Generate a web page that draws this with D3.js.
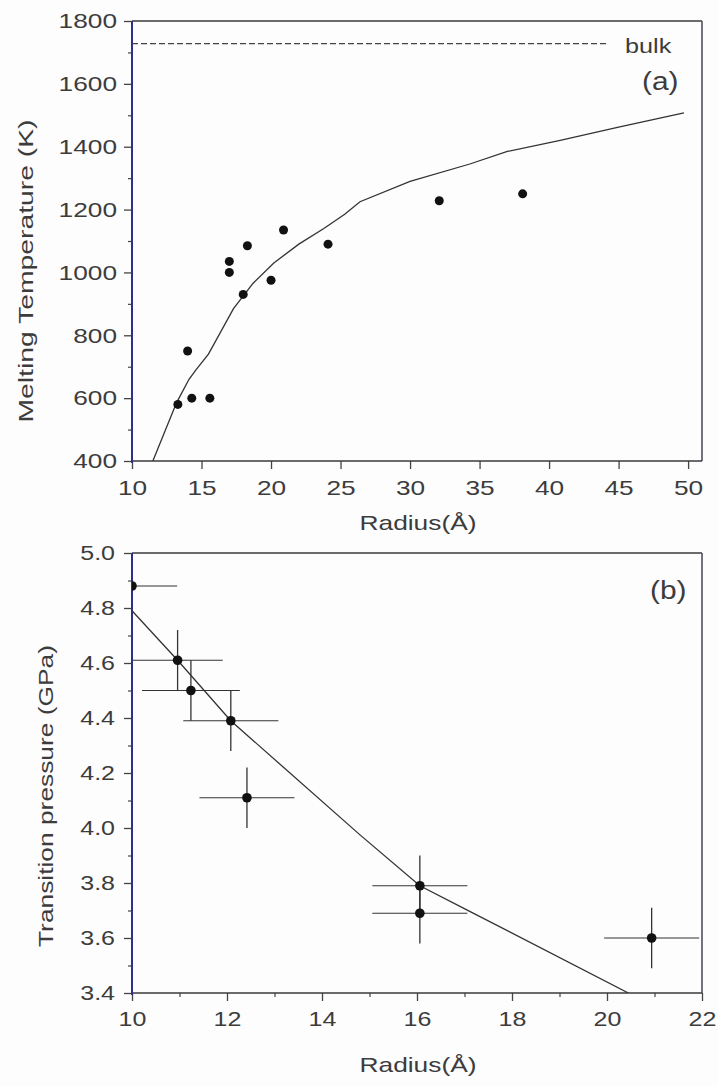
<!DOCTYPE html>
<html><head><meta charset="utf-8">
<script src="https://cdn.jsdelivr.net/npm/d3@7"></script>
<style>
body{margin:0;background:#fdfdfd}
svg{display:block}
text{font-family:"Liberation Sans",Arial,sans-serif;fill:#3c3c3c}
</style>
</head><body>
<svg id="c" width="718" height="1086"></svg>
<script>
// ---------- Panel (a) data ----------
const meltRadius = [13.3, 14.0, 14.3, 15.6, 17.0, 17.0, 18.0, 18.3, 20.0, 20.9, 24.1, 32.1, 38.1];
const meltTemp   = [580, 750, 600, 600, 1035, 1000, 930, 1085, 975, 1135, 1090, 1228, 1250];
const fitRadiusA = [11.5, 13.2, 14.1, 14.6, 15.5, 17.3, 18.7, 20.2, 22.0, 23.8, 25.3, 26.4, 30.0, 34.3, 37.0, 40.8, 45.0, 49.7];
const fitTempA   = [400, 585, 660, 690, 740, 885, 965, 1030, 1090, 1140, 1185, 1225, 1290, 1345, 1385, 1420, 1462, 1508];
const bulkTemp = 1728;
const bulkRadius = [10, 44.2];
const xTicksA = [10, 15, 20, 25, 30, 35, 40, 45, 50];
const yTicksA = [400, 600, 800, 1000, 1200, 1400, 1600, 1800];
const yMinorA = [500, 700, 900, 1100, 1300, 1500, 1700];

// ---------- Panel (b) data ----------
const presRadius = [10.0, 10.96, 11.24, 12.08, 12.42, 16.06, 16.06, 20.94];
const presValue  = [4.88, 4.61, 4.50, 4.39, 4.11, 3.79, 3.69, 3.60];
const radiusErr  = [0.95, 0.95, 1.03, 1.0, 1.0, 1.0, 1.0, 1.0];
const presErr    = [0, 0.11, 0.11, 0.11, 0.11, 0.11, 0.11, 0.11];
const fitRadiusB = [10.0, 10.96, 12.08, 14.8, 16.06, 17.12, 20.45];
const fitPresB   = [4.79, 4.61, 4.39, 3.975, 3.79, 3.696, 3.40];
const xTicksB = [10, 12, 14, 16, 18, 20, 22];
const xMinorB = [11, 13, 15, 17, 19, 21];
const yTicksB = [3.4, 3.6, 3.8, 4.0, 4.2, 4.4, 4.6, 4.8, 5.0];
const yMinorB = [3.5, 3.7, 3.9, 4.1, 4.3, 4.5, 4.7, 4.9];

const svg = d3.select("#c");
const STRETCH = 1.25;
const axisBlue = "#2e2e8c";

function stretchText(sel, factor) {
  sel.each(function(){
    const L = this.getComputedTextLength();
    this.setAttribute("textLength", L * factor);
    this.setAttribute("lengthAdjust", "spacingAndGlyphs");
  });
}

function panel(cfg) {
  const {left, right, top, bottom} = cfg;
  const x = d3.scaleLinear().domain(cfg.xDomain).range([left, right]);
  const y = d3.scaleLinear().domain(cfg.yDomain).range([bottom, top]);
  const g = svg.append("g");

  // minor ticks
  g.append("g").attr("transform", `translate(0,${bottom})`)
    .call(d3.axisBottom(x).tickValues(cfg.xMinor || []).tickSize(4).tickFormat(""))
    .call(a => a.select(".domain").remove())
    .call(a => a.selectAll("line").attr("stroke", "#444").attr("stroke-width", 1.2));
  g.append("g").attr("transform", `translate(${left},0)`)
    .call(d3.axisLeft(y).tickValues(cfg.yMinor || []).tickSize(4).tickFormat(""))
    .call(a => a.select(".domain").remove())
    .call(a => a.selectAll("line").attr("stroke", "#444").attr("stroke-width", 1.2));

  // major axes
  const xa = g.append("g").attr("transform", `translate(0,${bottom})`)
    .call(d3.axisBottom(x).tickValues(cfg.xTicks).tickSize(8).tickPadding(11).tickFormat(cfg.xFmt))
    .call(a => a.select(".domain").remove());
  xa.selectAll("line").attr("stroke", "#444").attr("stroke-width", 1.3);
  xa.selectAll("text").attr("font-size", cfg.tickFont).attr("fill", "#3c3c3c")
    .attr("font-family", '"Liberation Sans",Arial,sans-serif');
  stretchText(xa.selectAll("text"), STRETCH);

  const ya = g.append("g").attr("transform", `translate(${left},0)`)
    .call(d3.axisLeft(y).tickValues(cfg.yTicks).tickSize(8).tickPadding(cfg.yPad).tickFormat(cfg.yFmt))
    .call(a => a.select(".domain").remove());
  ya.selectAll("line").attr("stroke", "#444").attr("stroke-width", 1.3);
  ya.selectAll("text").attr("font-size", cfg.tickFont).attr("fill", "#3c3c3c")
    .attr("font-family", '"Liberation Sans",Arial,sans-serif');
  stretchText(ya.selectAll("text"), STRETCH);

  // frame
  g.append("line").attr("x1", left).attr("x2", right).attr("y1", top).attr("y2", top)
    .attr("stroke", "#3a3a3a").attr("stroke-width", 1.5);
  g.append("line").attr("x1", right).attr("x2", right).attr("y1", top).attr("y2", bottom)
    .attr("stroke", "#505060").attr("stroke-width", 1.6);
  g.append("line").attr("x1", left).attr("x2", right).attr("y1", bottom).attr("y2", bottom)
    .attr("stroke", "#3a3a3a").attr("stroke-width", 1.6);
  g.append("line").attr("x1", left).attr("x2", left).attr("y1", top).attr("y2", bottom + 2)
    .attr("stroke", axisBlue).attr("stroke-width", 2);

  // clip
  const id = "clip" + cfg.name;
  svg.append("clipPath").attr("id", id).append("rect")
    .attr("x", left).attr("y", top).attr("width", right - left).attr("height", bottom - top);
  const plot = g.append("g").attr("clip-path", `url(#${id})`);

  // axis titles
  const xt = g.append("text").attr("x", cfg.xTitleX).attr("y", cfg.xTitleY)
    .attr("text-anchor", "middle").attr("font-size", 21).text(cfg.xTitle);
  xt.attr("textLength", cfg.xTitleLen).attr("lengthAdjust", "spacingAndGlyphs");
  const yt = g.append("text")
    .attr("transform", `translate(${cfg.yTitleX},${cfg.yTitleY}) rotate(-90)`)
    .attr("text-anchor", "middle").attr("font-size", 21).text(cfg.yTitle);
  yt.attr("textLength", cfg.yTitleLen).attr("lengthAdjust", "spacingAndGlyphs");

  return {x, y, g, plot};
}

// ---------- Panel (a) ----------
const A = panel({
  name: "a", left: 132, right: 702, top: 21, bottom: 461,
  xDomain: [10, 51], yDomain: [400, 1800],
  xTicks: xTicksA, yTicks: yTicksA, yMinor: yMinorA,
  xFmt: d3.format("d"), yFmt: d3.format("d"), tickFont: 21, yPad: 7,
  xTitle: "Radius(Å)", xTitleX: 418, xTitleY: 530, xTitleLen: 117,
  yTitle: "Melting Temperature (K)", yTitleX: 33, yTitleY: 271, yTitleLen: 303
});

A.plot.append("line")
  .attr("x1", A.x(bulkRadius[0])).attr("x2", A.x(bulkRadius[1]))
  .attr("y1", A.y(bulkTemp)).attr("y2", A.y(bulkTemp))
  .attr("stroke", "#444").attr("stroke-width", 1.3).attr("stroke-dasharray", "6,3");

A.plot.append("path")
  .datum(fitRadiusA.map((r, i) => [r, fitTempA[i]]))
  .attr("fill", "none").attr("stroke", "#333").attr("stroke-width", 1.3)
  .attr("d", d3.line().x(d => A.x(d[0])).y(d => A.y(d[1])));

A.plot.selectAll("circle.m").data(meltRadius.map((r, i) => [r, meltTemp[i]]))
  .join("circle").attr("class", "m")
  .attr("cx", d => A.x(d[0])).attr("cy", d => A.y(d[1])).attr("r", 4.5).attr("fill", "#111");

const bulkT = A.g.append("text").attr("x", 625).attr("y", 53).attr("font-size", 21).text("bulk");
stretchText(bulkT, 1.2);
const aT = A.g.append("text").attr("x", 642).attr("y", 90).attr("font-size", 26).text("(a)");
stretchText(aT, 1.15);

// ---------- Panel (b) ----------
const B = panel({
  name: "b", left: 132, right: 702, top: 553, bottom: 993,
  xDomain: [10, 22], yDomain: [3.4, 5.0],
  xTicks: xTicksB, xMinor: xMinorB, yTicks: yTicksB, yMinor: yMinorB,
  xFmt: d3.format("d"), yFmt: d3.format(".1f"), tickFont: 20, yPad: 9,
  xTitle: "Radius(Å)", xTitleX: 418, xTitleY: 1072, xTitleLen: 117,
  yTitle: "Transition pressure (GPa)", yTitleX: 53, yTitleY: 796, yTitleLen: 302
});

B.plot.append("path")
  .datum(fitRadiusB.map((r, i) => [r, fitPresB[i]]))
  .attr("fill", "none").attr("stroke", "#333").attr("stroke-width", 1.3)
  .attr("d", d3.line().x(d => B.x(d[0])).y(d => B.y(d[1])));

const pts = presRadius.map((r, i) => ({r, p: presValue[i], er: radiusErr[i], ep: presErr[i]}));
B.plot.selectAll("line.xe").data(pts).join("line").attr("class", "xe")
  .attr("x1", d => B.x(d.r - d.er)).attr("x2", d => B.x(d.r + d.er))
  .attr("y1", d => B.y(d.p)).attr("y2", d => B.y(d.p))
  .attr("stroke", "#333").attr("stroke-width", 1.2);
B.plot.selectAll("line.ye").data(pts.filter(d => d.ep > 0)).join("line").attr("class", "ye")
  .attr("x1", d => B.x(d.r)).attr("x2", d => B.x(d.r))
  .attr("y1", d => B.y(d.p - d.ep)).attr("y2", d => B.y(d.p + d.ep))
  .attr("stroke", "#333").attr("stroke-width", 1.3);
B.plot.selectAll("circle.p").data(pts).join("circle").attr("class", "p")
  .attr("cx", d => B.x(d.r)).attr("cy", d => B.y(d.p)).attr("r", 4.8).attr("fill", "#111");

const bT = B.g.append("text").attr("x", 650).attr("y", 599).attr("font-size", 26).text("(b)");
stretchText(bT, 1.15);
</script>
</body></html>
